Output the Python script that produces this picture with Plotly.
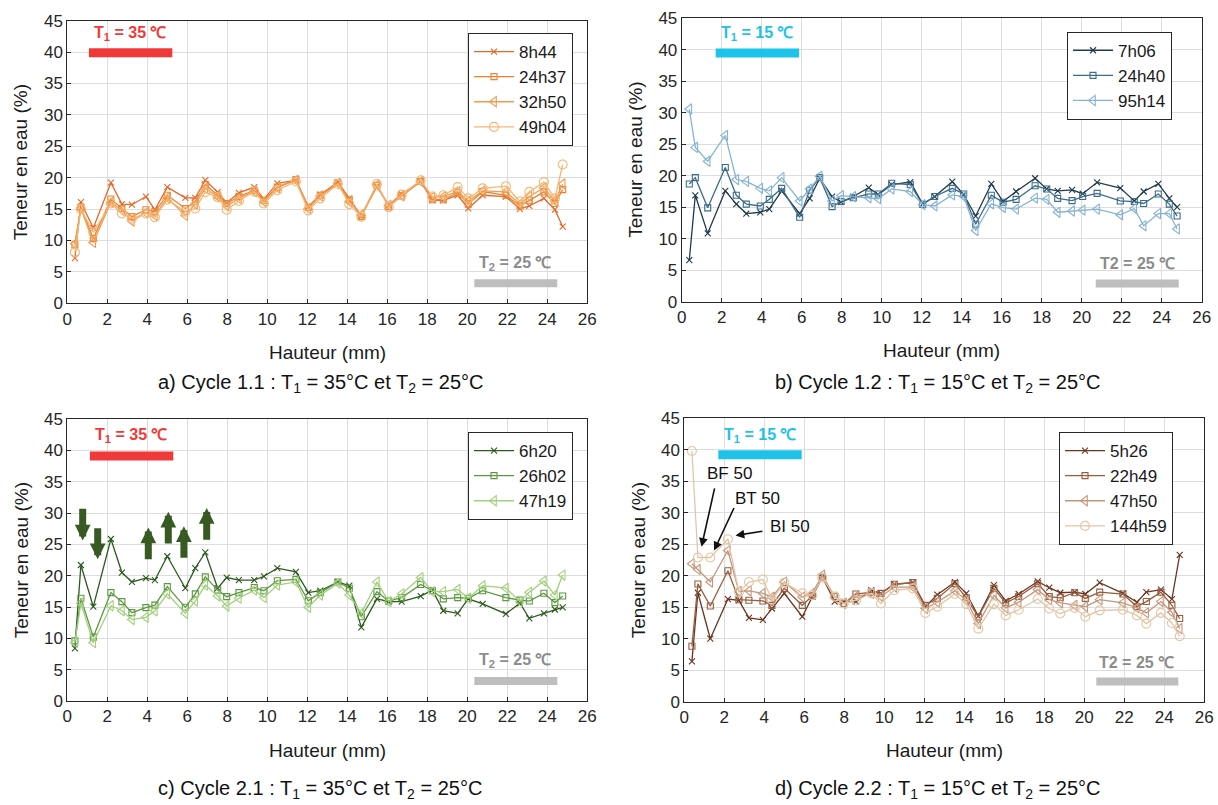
import plotly.graph_objects as go

# ---------------- data ----------------
X = [0.38, 0.68, 1.3, 2.18, 2.73, 3.23, 3.93, 4.38, 5.0, 5.9, 6.4, 6.9, 7.52, 7.97,
     8.58, 9.35, 9.83, 10.5, 11.43, 12.05, 12.65, 13.53, 14.1, 14.7, 15.48, 16.07,
     16.72, 17.67, 18.25, 18.8, 19.52, 20.05, 20.77, 21.93, 22.63, 23.1, 23.83, 24.38, 24.77]

# a) Cycle 1.1
a_8h44 = [7.2, 16.1, 12.0, 19.2, 15.8, 15.7, 17.0, 14.9, 18.5, 16.8, 16.8, 19.6, 17.7, 16.0, 17.6, 18.5, 16.6, 19.1, 19.6, 15.4,
          17.3, 19.3, 16.7, 13.9, 18.6, 15.6, 17.4, 19.4, 16.4, 16.4, 17.2, 15.1, 17.2, 17.0, 15.0, 15.5, 16.7, 14.9, 12.2]
a_24h37 = [9.3, 15.3, 10.3, 16.6, 15.1, 13.8, 14.9, 14.6, 17.2, 15.1, 16.2, 18.9, 17.2, 15.9, 17.0, 18.0, 16.4, 18.5, 19.7, 15.3,
           17.2, 19.2, 16.5, 13.8, 18.8, 15.4, 17.1, 19.4, 16.5, 16.5, 17.6, 15.8, 17.8, 17.2, 15.5, 16.4, 17.75, 15.9, 18.1]
a_32h50 = [9.5, 15.1, 9.7, 16.1, 14.8, 13.1, 14.4, 14.0, 16.8, 14.0, 15.8, 18.3, 17.0, 15.5, 16.7, 17.8, 16.2, 18.4, 19.6, 15.1,
           17.1, 19.1, 16.2, 14.1, 18.8, 15.6, 17.1, 19.4, 16.9, 17.0, 17.8, 16.3, 17.9, 17.75, 15.8, 17.0, 18.4, 16.3, 19.0]
a_49h04 = [8.1, 15.0, 11.3, 15.9, 14.3, 13.5, 14.3, 13.7, 16.5, 14.6, 15.1, 17.7, 16.9, 14.9, 16.3, 17.8, 15.9, 18.0, 19.4, 14.8,
           16.7, 19.0, 15.8, 13.8, 19.0, 15.3, 17.3, 19.6, 17.0, 17.2, 18.5, 16.7, 18.3, 18.65, 16.2, 17.75, 19.3, 16.7, 22.1]

# b) Cycle 1.2
b_7h06 = [6.6, 16.9, 10.85, 17.6, 15.5, 14.0, 14.2, 14.7, 17.6, 14.0, 16.4, 19.6, 16.7, 15.8, 16.7, 18.1, 17.0, 18.6, 19.0, 15.5,
          16.7, 19.05, 17.0, 13.6, 18.7, 15.9, 17.5, 19.6, 17.9, 17.6, 17.75, 17.15, 18.95, 18.05, 16.0, 17.5, 18.7, 16.4, 15.0]
b_24h40 = [18.7, 19.7, 14.9, 21.3, 16.9, 15.5, 15.2, 16.25, 18.0, 13.4, 17.7, 19.7, 15.1, 15.9, 16.5, 17.1, 17.1, 18.8, 18.6, 15.45,
           16.7, 18.0, 17.1, 12.3, 16.9, 15.8, 16.25, 18.4, 17.9, 16.4, 16.05, 16.7, 17.2, 16.0, 15.9, 15.6, 17.1, 15.5, 13.6]
b_95h14 = [30.6, 24.5, 22.3, 26.4, 19.4, 19.1, 18.0, 17.6, 19.7, 16.0, 17.9, 19.9, 16.0, 16.85, 16.7, 16.5, 16.35, 17.9, 17.5, 15.4,
           15.2, 16.95, 16.7, 11.3, 15.55, 14.95, 14.7, 16.45, 16.25, 14.2, 14.4, 14.55, 14.7, 13.8, 14.8, 12.05, 14.0, 14.0, 11.55]

# c) Cycle 2.1
c_6h20 = [8.4, 21.7, 15.05, 25.85, 20.5, 19.0, 19.6, 19.3, 23.1, 18.0, 21.2, 23.7, 18.0, 19.7, 19.3, 19.3, 19.9, 21.2, 20.6, 17.3,
          17.6, 19.0, 18.4, 11.75, 16.3, 15.85, 15.85, 16.75, 17.7, 14.4, 14.0, 16.3, 15.5, 13.9, 15.6, 13.2, 14.0, 14.6, 14.95]
c_26h02 = [9.6, 16.4, 10.2, 17.3, 15.85, 14.1, 14.9, 15.3, 18.25, 14.95, 17.1, 19.8, 17.7, 16.65, 17.3, 18.1, 17.6, 19.2, 19.4, 16.0,
           17.3, 19.0, 18.0, 13.45, 17.45, 15.95, 16.5, 18.6, 17.6, 16.3, 16.5, 16.4, 17.6, 16.5, 16.1, 15.95, 17.2, 15.7, 16.75]
c_47h19 = [9.3, 15.6, 9.3, 15.2, 14.4, 13.0, 13.35, 14.4, 17.1, 14.0, 15.95, 18.5, 16.75, 15.15, 16.4, 17.7, 16.5, 18.5, 19.0, 14.95,
           16.9, 18.8, 16.9, 14.0, 19.0, 15.85, 17.1, 19.7, 17.45, 17.45, 17.8, 16.4, 18.4, 18.0, 15.85, 17.35, 19.15, 16.9, 20.1]

# d) Cycle 2.2
d_5h26 = [6.4, 17.3, 10.0, 16.3, 16.1, 13.3, 13.0, 14.8, 17.2, 13.5, 16.7, 19.8, 15.9, 15.9, 15.9, 17.7, 17.2, 18.65, 18.9, 15.1,
          17.0, 19.0, 17.2, 13.6, 18.5, 16.0, 17.1, 19.1, 18.1, 17.3, 17.4, 17.1, 18.9, 17.2, 15.8, 17.4, 17.8, 16.3, 23.3]
d_22h49 = [8.8, 18.7, 15.2, 20.8, 16.2, 16.1, 16.0, 15.3, 18.0, 15.3, 16.8, 19.8, 16.7, 15.6, 17.1, 17.4, 17.2, 18.65, 18.9, 15.3,
           16.4, 18.75, 16.5, 13.5, 18.0, 15.7, 16.7, 18.75, 16.7, 16.5, 17.3, 16.4, 17.4, 17.1, 15.1, 15.9, 17.4, 15.3, 13.2]
d_47h50 = [21.9, 21.0, 19.0, 24.0, 17.5, 17.6, 17.2, 16.6, 19.0, 16.6, 17.2, 20.1, 16.6, 15.6, 16.7, 17.2, 16.7, 18.2, 18.2, 14.8,
           15.8, 17.6, 16.1, 12.4, 16.9, 14.9, 15.8, 17.8, 16.2, 15.7, 15.3, 15.1, 16.2, 15.7, 14.9, 14.1, 15.9, 14.2, 11.6]
d_144h59 = [39.8, 22.9, 22.9, 25.8, 17.4, 19.0, 19.4, 16.2, 18.9, 17.2, 16.9, 19.7, 16.7, 15.6, 16.1, 17.2, 15.6, 17.7, 18.0, 14.1,
            15.1, 17.1, 15.5, 11.6, 15.5, 13.7, 14.6, 16.3, 14.8, 14.0, 14.9, 13.5, 14.5, 14.6, 13.7, 12.4, 14.1, 12.5, 10.4]

X_TICKS = list(range(0, 27, 2))
Y_TICKS = list(range(0, 46, 5))

FONT = "Liberation Sans, Arial, sans-serif"
W, H = 1218, 805

SYMBOLS = ['x-thin', 'square-open', 'triangle-left-open', 'circle-open']
SIZES = [6, 6, 9, 9]

panels = [
    dict(ax='', names=['8h44', '24h37', '32h50', '49h04'], data=[a_8h44, a_24h37, a_32h50, a_49h04],
         colors=['#E4682A', '#EB8232', '#F09C4E', '#F5B673'], syms=[0, 1, 2, 3],
         px=(67.3, 587.3), py=(20.7, 303.3), legend='legend', lpos=(573, 33)),
    dict(ax='2', names=['7h06', '24h40', '95h14'], data=[b_7h06, b_24h40, b_95h14],
         colors=['#1E3A4C', '#3B6C8A', '#86B3D2'], syms=[0, 1, 2],
         px=(681.7, 1201.7), py=(18.3, 301.7), legend='legend2', lpos=(1172, 31.7)),
    dict(ax='3', names=['6h20', '26h02', '47h19'], data=[c_6h20, c_26h02, c_47h19],
         colors=['#2D5A1E', '#5C983F', '#A2D07E'], syms=[0, 1, 2],
         px=(67.3, 587.3), py=(419, 701), legend='legend3', lpos=(573, 432)),
    dict(ax='4', names=['5h26', '22h49', '47h50', '144h59'], data=[d_5h26, d_22h49, d_47h50, d_144h59],
         colors=['#6A3520', '#985C3E', '#C4967A', '#E3C5A5'], syms=[0, 1, 2, 3],
         px=(684.3, 1204.3), py=(418.3, 701.7), legend='legend4', lpos=(1173, 432)),
]

fig = go.Figure()
layout = dict(width=W, height=H, margin=dict(l=0, r=0, t=0, b=0, pad=0, autoexpand=False),
              paper_bgcolor='white', plot_bgcolor='white',
              font=dict(family=FONT, size=17, color='#262626'), showlegend=True)

for p in panels:
    ax = p['ax']
    for name, vals, col, si in zip(p['names'], p['data'], p['colors'], p['syms']):
        fig.add_trace(go.Scatter(
            x=X, y=vals, mode='lines+markers', name=name,
            line=dict(color=col, width=1.3),
            marker=dict(symbol=SYMBOLS[si], size=SIZES[si], color=col,
                        line=dict(color=col, width=1.1)),
            xaxis='x' + ax, yaxis='y' + ax, legend=p['legend']))
    xd = [p['px'][0] / W, p['px'][1] / W]
    yd = [1 - p['py'][1] / H, 1 - p['py'][0] / H]
    common = dict(showgrid=True, gridcolor='#DDDDDD', gridwidth=1, showline=True, linecolor='#262626',
                  linewidth=1, mirror=True, ticks='inside', ticklen=4, tickcolor='#262626',
                  zeroline=False, automargin=False, tickfont=dict(size=17))
    layout['xaxis' + ax] = dict(domain=xd, range=[0, 26], tickvals=X_TICKS, anchor='y' + ax, **common)
    layout['yaxis' + ax] = dict(domain=yd, range=[0, 45], tickvals=Y_TICKS, anchor='x' + ax, **common)
    layout[p['legend']] = dict(x=p['lpos'][0] / W, y=1 - p['lpos'][1] / H, xanchor='right', yanchor='top',
                               bordercolor='#262626', borderwidth=1, bgcolor='white',
                               font=dict(size=17, color='#1a1a1a'), itemwidth=40, tracegroupgap=0)

fig.update_layout(**layout)

ann = []
shapes = []
# axis titles
for p in panels:
    cx = (p['px'][0] + p['px'][1]) / 2
    ann.append(dict(xref='paper', yref='paper', x=cx / W, y=1 - (p['py'][1] + 49) / H,
                    text='Hauteur (mm)', showarrow=False, font=dict(size=19, color='#1a1a1a'),
                    xanchor='center', yanchor='middle'))
    ann.append(dict(xref='paper', yref='paper', x=(p['px'][0] - 46) / W,
                    y=1 - ((p['py'][0] + p['py'][1]) / 2) / H,
                    text='Teneur en eau (%)', showarrow=False, textangle=-90,
                    font=dict(size=19, color='#1a1a1a'), xanchor='center', yanchor='middle'))

captions = [
    ('a) Cycle 1.1 : T<sub>1</sub> = 35°C et T<sub>2</sub> = 25°C', 320, 383),
    ('b) Cycle 1.2 : T<sub>1</sub> = 15°C et T<sub>2</sub> = 25°C', 938, 383),
    ('c) Cycle 2.1 : T<sub>1</sub> = 35°C et T<sub>2</sub> = 25°C', 320, 789),
    ('d) Cycle 2.2 : T<sub>1</sub> = 15°C et T<sub>2</sub> = 25°C', 938, 789),
]
for t, cx, cy in captions:
    ann.append(dict(xref='paper', yref='paper', x=cx / W, y=1 - cy / H, text=t, showarrow=False,
                    font=dict(size=20, color='#111111'), xanchor='center', yanchor='middle'))

# temperature labels and bars
temp = [
    ('', 'T<sub>1</sub> = 35 ℃', '#F03A3A', 3.15, 43.0, 1.08, 5.25, 39.9, 'T<sub>2</sub> = 25 ℃', 22.4, 6.3, 20.35, 24.5, 3.2),
    ('2', 'T<sub>1</sub> = 15 ℃', '#1EC3EA', 3.8, 42.6, 1.7, 5.87, 39.5, 'T2 = 25 ℃', 22.8, 6.0, 20.7, 24.85, 2.9),
    ('3', 'T<sub>1</sub> = 35 ℃', '#F03A3A', 3.2, 42.3, 1.13, 5.3, 39.1, 'T<sub>2</sub> = 25 ℃', 22.4, 6.4, 20.35, 24.5, 3.2),
    ('4', 'T<sub>1</sub> = 15 ℃', '#1EC3EA', 3.8, 42.2, 1.7, 5.87, 39.2, 'T2 = 25 ℃', 22.6, 6.3, 20.6, 24.7, 3.2),
]
for ax, t1, c1, tx, ty, b0, b1, by, t2, t2x, t2y, g0, g1, gy in temp:
    ann.append(dict(xref='x' + ax, yref='y' + ax, x=tx, y=ty, text='<b>' + t1 + '</b>', showarrow=False,
                    font=dict(size=16, color=c1), xanchor='center', yanchor='middle'))
    ann.append(dict(xref='x' + ax, yref='y' + ax, x=t2x, y=t2y, text='<b>' + t2 + '</b>', showarrow=False,
                    font=dict(size=16, color='#8C8C8C'), xanchor='center', yanchor='middle'))
    shapes.append(dict(type='line', xref='x' + ax, yref='y' + ax, x0=b0, x1=b1, y0=by, y1=by,
                       line=dict(color=c1, width=9)))
    shapes.append(dict(type='line', xref='x' + ax, yref='y' + ax, x0=g0, x1=g1, y0=gy, y1=gy,
                       line=dict(color='#BEBEBE', width=8)))

# block arrows in panel c (tail -> head)
arrows_c = [(0.77, 30.9, 25.6), (1.52, 27.8, 22.6), (4.05, 22.4, 27.7), (5.05, 24.9, 30.2),
            (5.83, 22.6, 27.9), (6.97, 25.5, 30.8)]
for x0, yt, yh in arrows_c:
    ann.append(dict(xref='x3', yref='y3', axref='x3', ayref='y3', x=x0, y=yh, ax=x0, ay=yt,
                    text='', showarrow=True, arrowhead=2, arrowsize=0.45, arrowwidth=7,
                    arrowcolor='#375A22'))

# labelled arrows in panel d
labels_d = [('BF 50', 2.26, 36.2, 1.53, 34.1, 0.86, 24.6),
            ('BT 50', 3.64, 32.3, 2.52, 31.0, 1.49, 24.0),
            ('BI 50', 5.27, 27.8, 3.98, 27.1, 2.56, 26.4)]
for t, lx, ly, tx0, ty0, hx, hy in labels_d:
    ann.append(dict(xref='x4', yref='y4', x=lx, y=ly, text=t, showarrow=False,
                    font=dict(size=17, color='#111111'), xanchor='center', yanchor='middle'))
    ann.append(dict(xref='x4', yref='y4', axref='x4', ayref='y4', x=hx, y=hy, ax=tx0, ay=ty0,
                    text='', showarrow=True, arrowhead=2, arrowsize=1.1, arrowwidth=1.6,
                    arrowcolor='#111111'))

fig.update_layout(annotations=ann, shapes=shapes)
fig.write_html("out.html", config={'displayModeBar': False},
               post_script="document.body.style.margin='0px';document.body.style.overflow='hidden';")
